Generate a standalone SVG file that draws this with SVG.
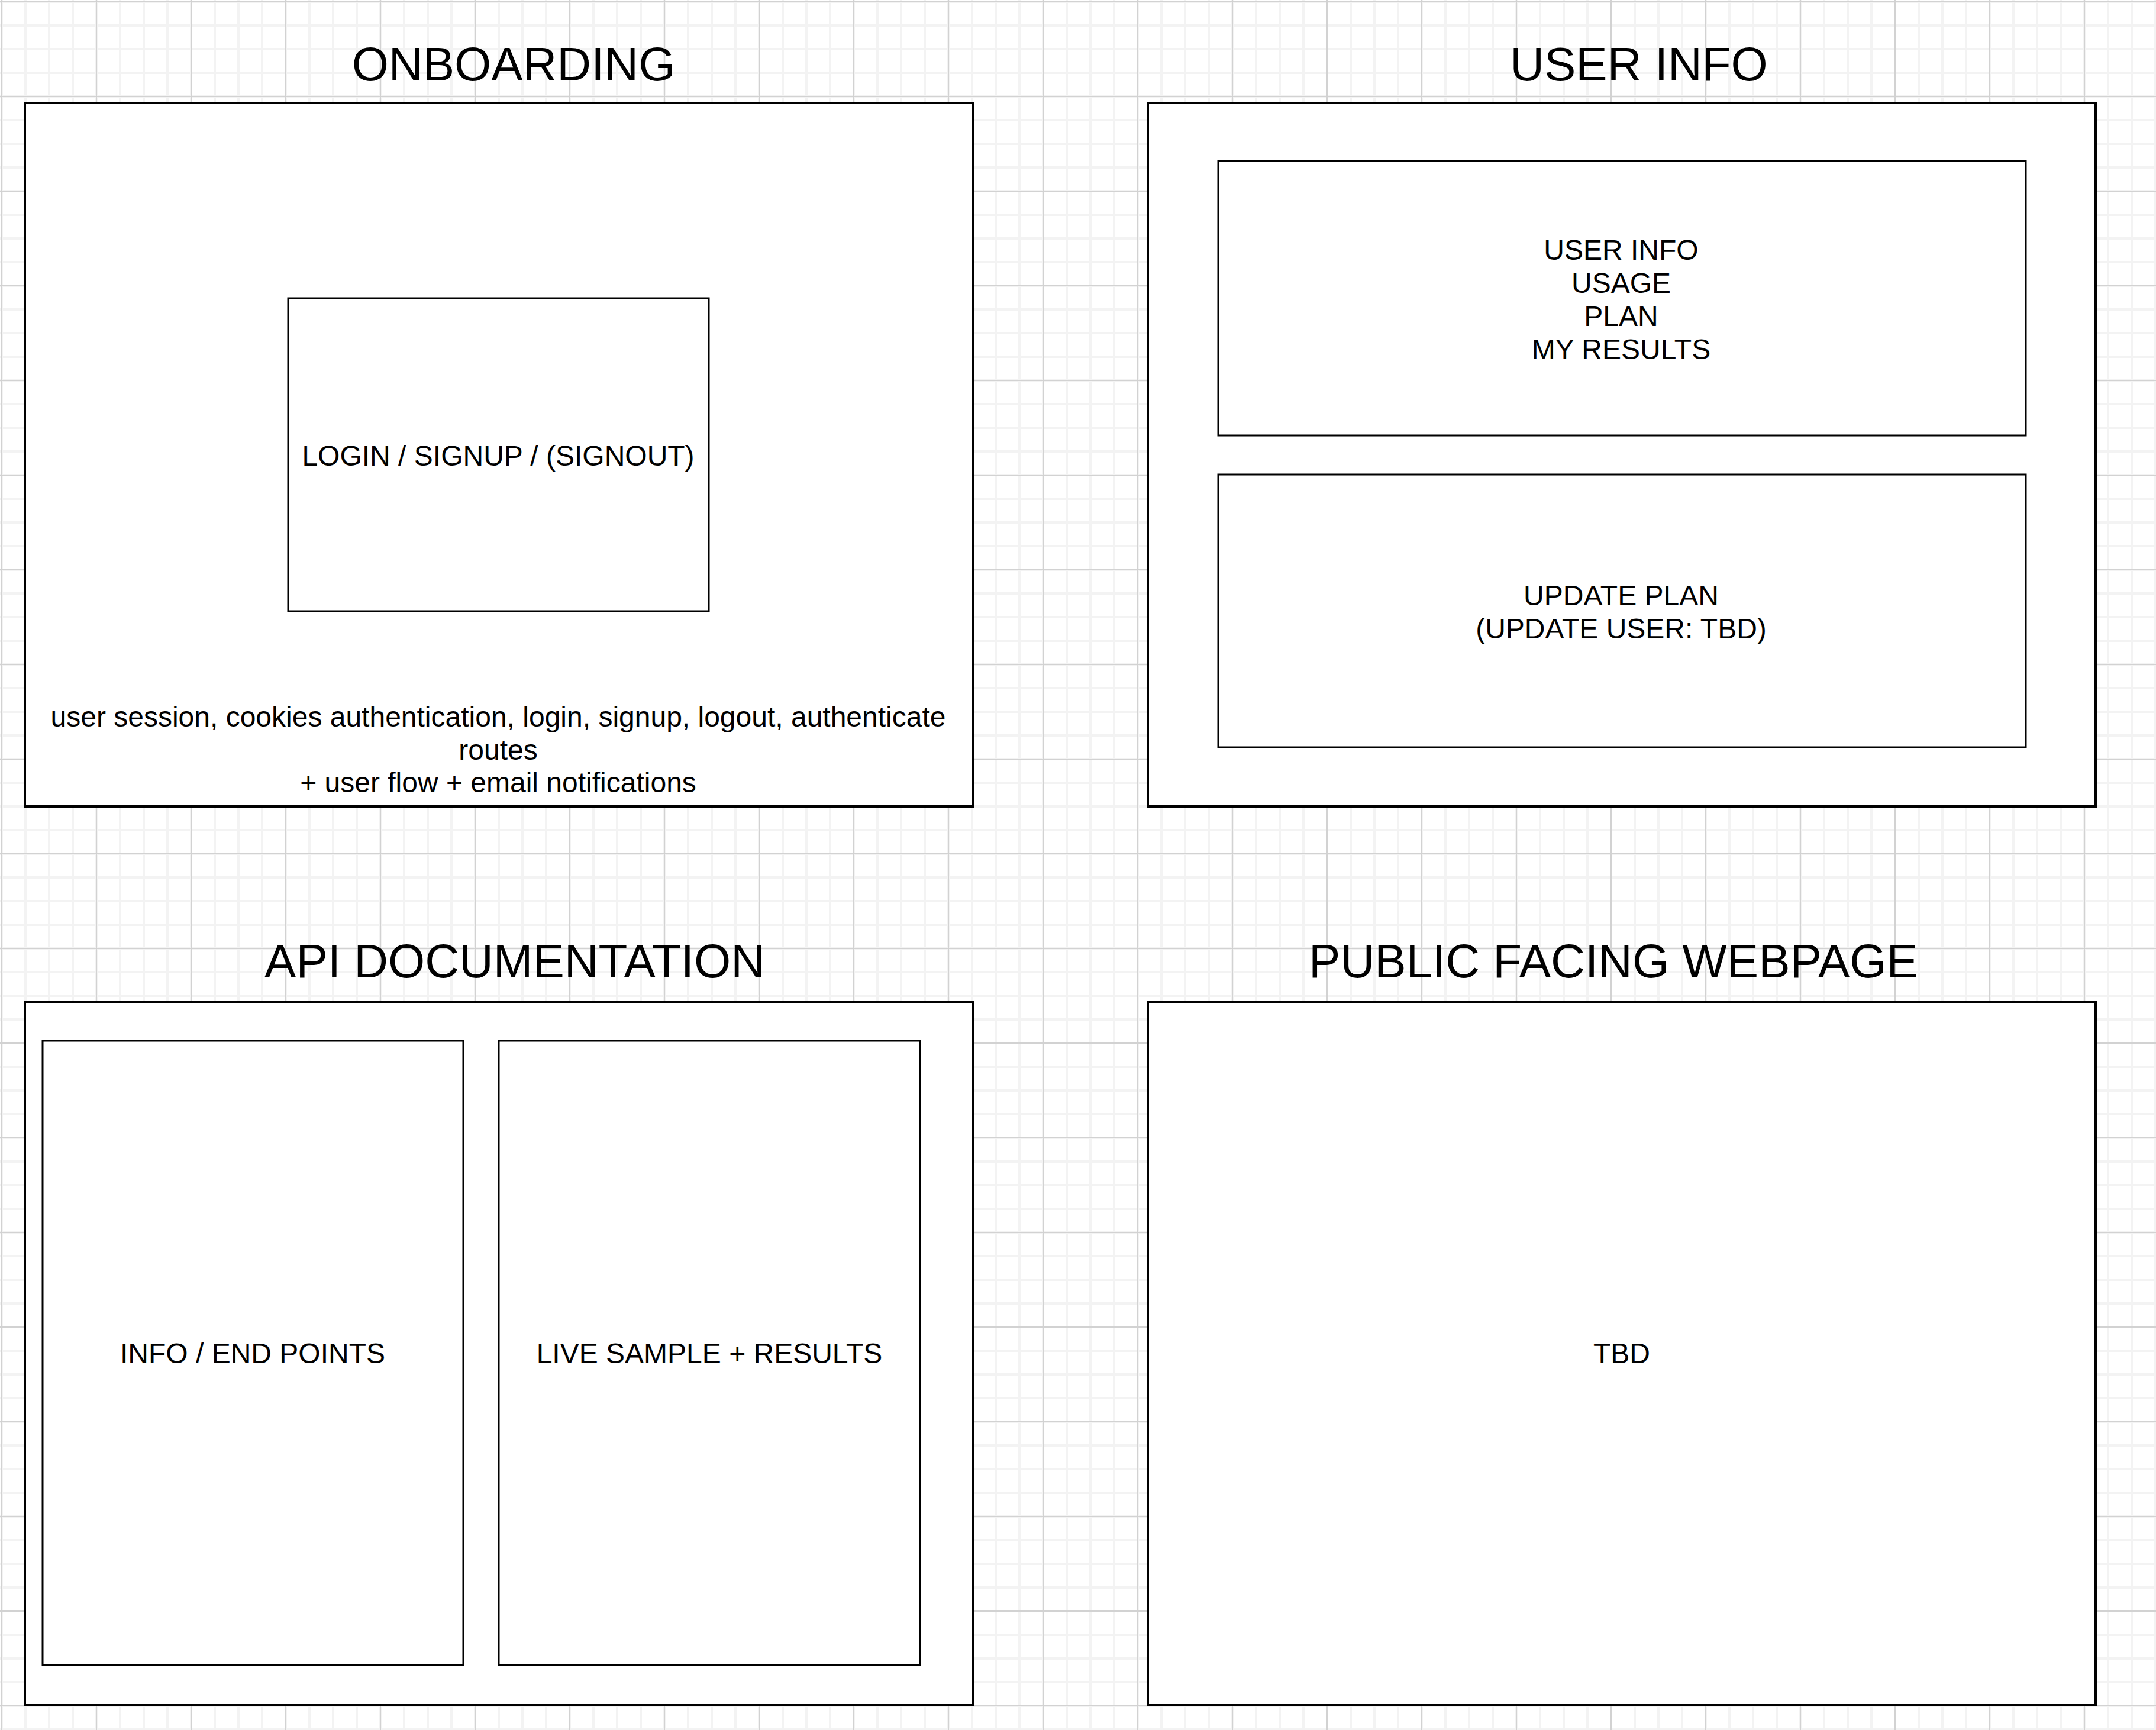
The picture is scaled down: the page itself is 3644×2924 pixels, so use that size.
<svg xmlns="http://www.w3.org/2000/svg" width="3644" height="2924" viewBox="0 0 3644 2924">
  <defs>
    <!-- fine grid: 40px cells -->
    <pattern id="gridMinor" patternUnits="userSpaceOnUse" x="0" y="0" width="40" height="40">
      <rect x="1" y="0" width="4" height="40" fill="#f3f3f3"/>
      <rect x="0" y="1" width="40" height="4" fill="#f3f3f3"/>
    </pattern>
    <!-- coarse grid: every fourth line -->
    <pattern id="gridMajor" patternUnits="userSpaceOnUse" x="0" y="0" width="160" height="160">
      <rect x="2" y="0" width="2" height="160" fill="#d2d2d2"/>
      <rect x="0" y="2" width="160" height="2" fill="#d2d2d2"/>
    </pattern>
    <style>
      .outer { fill: #ffffff; stroke: #000000; stroke-width: 4; }
      .inner { fill: #ffffff; stroke: #000000; stroke-width: 3; }
      .title { font-family: "Liberation Sans", Arial, Helvetica, sans-serif; font-size: 80px; fill: #000000; text-anchor: middle; }
      .label { font-family: "Liberation Sans", Arial, Helvetica, sans-serif; font-size: 48px; fill: #000000; text-anchor: middle; }
    </style>
  </defs>

  <!-- canvas background with grid -->
  <rect x="0" y="0" width="3644" height="2924" fill="#ffffff"/>
  <rect x="0" y="0" width="3644" height="2924" fill="url(#gridMinor)"/>
  <rect x="0" y="0" width="3644" height="2924" fill="url(#gridMajor)"/>

  <!-- Onboarding panel -->
  <g id="onboarding">
    <text class="title" x="868" y="136">ONBOARDING</text>
    <rect class="outer" x="42" y="174" width="1602" height="1189"/>
    <g id="login-signup">
      <rect class="inner" x="487" y="504" width="711" height="529"/>
      <text class="label" x="842" y="787">LOGIN / SIGNUP / (SIGNOUT)</text>
    </g>
    <text class="label" x="842" y="1228">user session, cookies authentication, login, signup, logout, authenticate</text>
    <text class="label" x="842" y="1284">routes</text>
    <text class="label" x="842" y="1339">+ user flow + email notifications</text>
  </g>

  <!-- User info panel -->
  <g id="user-info">
    <text class="title" x="2770" y="136">USER INFO</text>
    <rect class="outer" x="1940" y="174" width="1602" height="1189"/>
    <g id="user-info-details">
      <rect class="inner" x="2059" y="272" width="1365" height="464"/>
      <text class="label" x="2740" y="439">USER INFO</text>
      <text class="label" x="2740" y="495">USAGE</text>
      <text class="label" x="2740" y="551">PLAN</text>
      <text class="label" x="2740" y="607">MY RESULTS</text>
    </g>
    <g id="update-plan">
      <rect class="inner" x="2059" y="802" width="1365" height="461"/>
      <text class="label" x="2740" y="1023">UPDATE PLAN</text>
      <text class="label" x="2740" y="1079">(UPDATE USER: TBD)</text>
    </g>
  </g>

  <!-- API documentation panel -->
  <g id="api-documentation">
    <text class="title" x="870" y="1652">API DOCUMENTATION</text>
    <rect class="outer" x="42" y="1694" width="1602" height="1188"/>
    <g id="info-endpoints">
      <rect class="inner" x="72" y="1759" width="711" height="1055"/>
      <text class="label" x="427" y="2304">INFO / END POINTS</text>
    </g>
    <g id="live-sample">
      <rect class="inner" x="843" y="1759" width="712" height="1055"/>
      <text class="label" x="1199" y="2304">LIVE SAMPLE + RESULTS</text>
    </g>
  </g>

  <!-- Public facing webpage panel -->
  <g id="public-webpage">
    <text class="title" x="2727" y="1652">PUBLIC FACING WEBPAGE</text>
    <rect class="outer" x="1940" y="1694" width="1602" height="1188"/>
    <text class="label" x="2741" y="2304">TBD</text>
  </g>
</svg>
